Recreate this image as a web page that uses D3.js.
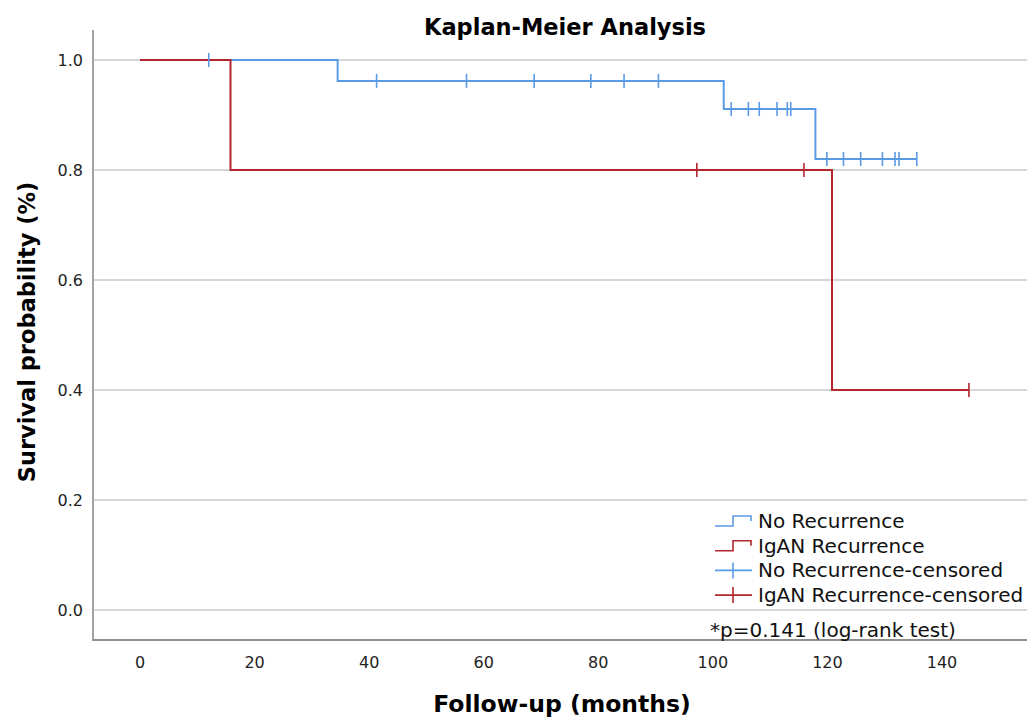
<!DOCTYPE html>
<html>
<head>
<meta charset="utf-8">
<script src="https://cdn.jsdelivr.net/npm/d3@7"></script>
<style>
  html, body { margin: 0; padding: 0; background: #fff; }
  svg { display: block; font-family: "DejaVu Sans", sans-serif; }
</style>
</head>
<body>
<svg id="chart" width="1027" height="717"></svg>
<script>
// step curves: time of each step (months) and survival after it
const noRecTimes = [0, 34.5, 101.9, 117.9, 135.6];
const noRecSurv = [1.0, 0.962, 0.911, 0.82, 0.82];
const igaTimes = [0, 15.8, 120.8, 144.7];
const igaSurv = [1.0, 0.8, 0.4, 0.4];

// censored observations
const noRecCensTimes = [12.0, 41.3, 57.0, 68.8, 78.7, 84.5, 90.5, 103.2, 106.2, 108.1, 111.2, 113.0, 113.6, 119.9, 122.8, 125.8, 129.6, 131.8, 132.5, 135.6];
const noRecCensSurv = [1.0, 0.962, 0.962, 0.962, 0.962, 0.962, 0.962, 0.911, 0.911, 0.911, 0.911, 0.911, 0.911, 0.82, 0.82, 0.82, 0.82, 0.82, 0.82, 0.82];
const igaCensTimes = [97.2, 115.9, 144.7];
const igaCensSurv = [0.8, 0.8, 0.4];

const xTicks = [0, 20, 40, 60, 80, 100, 120, 140];
const yTicks = [0, 0.2, 0.4, 0.6, 0.8, 1.0];

const BLUE = '#5b9be6';
const RED = '#b3262e';

const svg = d3.select('#chart');
const plot = { left: 93, right: 1027, top: 30, bottom: 640 };

const x = d3.scaleLinear().domain([0, 140]).range([140, 942]);
const y = d3.scaleLinear().domain([0, 1]).range([610, 60]);

// gridlines
svg.append('g').selectAll('line').data(yTicks).join('line')
  .attr('x1', plot.left).attr('x2', plot.right)
  .attr('y1', d => y(d)).attr('y2', d => y(d))
  .attr('stroke', '#d6d6d6').attr('stroke-width', 2);

// axes frame
svg.append('line').attr('x1', plot.left).attr('x2', plot.left)
  .attr('y1', plot.top).attr('y2', plot.bottom + 1)
  .attr('stroke', '#a3a3a3').attr('stroke-width', 2);
svg.append('line').attr('x1', plot.left).attr('x2', plot.right)
  .attr('y1', plot.bottom).attr('y2', plot.bottom)
  .attr('stroke', '#8e8e8e').attr('stroke-width', 2);

// y tick labels
svg.append('g').selectAll('text').data(yTicks).join('text')
  .attr('x', 83).attr('y', d => y(d)).attr('dy', '0.35em')
  .attr('text-anchor', 'end').attr('font-size', 16).attr('fill', '#222')
  .text(d => d3.format('.1f')(d));

// x tick labels
svg.append('g').selectAll('text').data(xTicks).join('text')
  .attr('x', d => x(d)).attr('y', 662).attr('dy', '0.35em')
  .attr('text-anchor', 'middle').attr('font-size', 16).attr('fill', '#222')
  .text(d => d);

// titles
svg.append('text').attr('x', 565).attr('y', 35)
  .attr('text-anchor', 'middle').attr('font-size', 22.5).attr('font-weight', 'bold')
  .text('Kaplan-Meier Analysis');
svg.append('text').attr('x', 562).attr('y', 712)
  .attr('text-anchor', 'middle').attr('font-size', 23.5).attr('font-weight', 'bold')
  .text('Follow-up (months)');
svg.append('text').attr('transform', 'translate(35,332) rotate(-90)')
  .attr('text-anchor', 'middle').attr('font-size', 22.5).attr('font-weight', 'bold')
  .text('Survival probability (%)');

// curves
const step = d3.line().x(d => x(d[0])).y(d => y(d[1])).curve(d3.curveStepAfter);
function drawCurve(times, surv, color) {
  svg.append('path').datum(d3.zip(times, surv))
    .attr('d', step).attr('fill', 'none')
    .attr('stroke', color).attr('stroke-width', 2);
}
function drawCensored(times, surv, color) {
  svg.append('g').selectAll('line').data(d3.zip(times, surv)).join('line')
    .attr('x1', d => x(d[0])).attr('x2', d => x(d[0]))
    .attr('y1', d => y(d[1]) - 7).attr('y2', d => y(d[1]) + 7)
    .attr('stroke', color).attr('stroke-width', 1.6);
}
drawCurve(noRecTimes, noRecSurv, BLUE);
drawCurve(igaTimes, igaSurv, RED);
drawCensored(noRecCensTimes, noRecCensSurv, BLUE);
drawCensored(igaCensTimes, igaCensSurv, RED);

// legend
const legendItems = [
  { label: 'No Recurrence', color: BLUE, kind: 'step' },
  { label: 'IgAN Recurrence', color: RED, kind: 'step' },
  { label: 'No Recurrence-censored', color: BLUE, kind: 'cens' },
  { label: 'IgAN Recurrence-censored', color: RED, kind: 'cens' }
];
const legend = svg.append('g').attr('transform', 'translate(715,521)');
legendItems.forEach((item, i) => {
  const g = legend.append('g').attr('transform', `translate(0,${i * 24.7})`);
  if (item.kind === 'step') {
    g.append('path').attr('d', 'M0,5 H18 V-5 H36 V0')
      .attr('fill', 'none').attr('stroke', item.color).attr('stroke-width', 1.6);
  } else {
    g.append('path').attr('d', 'M0,0 H37 M18,-8 V8')
      .attr('fill', 'none').attr('stroke', item.color).attr('stroke-width', 1.6);
  }
  g.append('text').attr('x', 43).attr('y', 0).attr('dy', '0.35em')
    .attr('font-size', 20).attr('fill', '#111').text(item.label);
});
svg.append('text').attr('x', 710).attr('y', 630).attr('dy', '0.35em')
  .attr('font-size', 20).attr('fill', '#111')
  .text('*p=0.141 (log-rank test)');
</script>
</body>
</html>
